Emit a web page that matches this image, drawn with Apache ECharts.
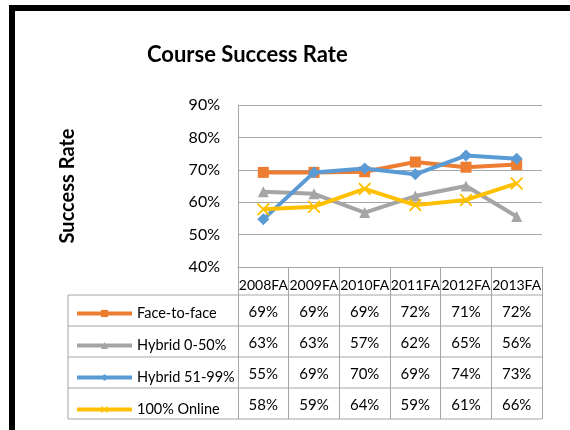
<!DOCTYPE html>
<html><head><meta charset="utf-8">
<script src="https://cdn.jsdelivr.net/npm/echarts@6/dist/echarts.min.js"></script>
<style>html,body{margin:0;padding:0;background:#fff}#c{width:570px;height:430px}</style>
</head><body><div id="c"></div>
<script>
var categories = ['2008FA','2009FA','2010FA','2011FA','2012FA','2013FA'];
var faceToFace = [69.2, 69.2, 69.4, 72.4, 70.8, 71.6];
var hybrid0to50 = [63.2, 62.6, 56.8, 61.9, 65.0, 55.6];
var hybrid51to99 = [54.7, 69.2, 70.4, 68.6, 74.4, 73.4];
var online100 = [57.8, 58.6, 64.1, 59.1, 60.7, 65.8];
var seriesNames = ['Face-to-face','Hybrid 0-50%','Hybrid 51-99%','100% Online'];
var yTicks = [40, 50, 60, 70, 80, 90];

var FONT = 'Lato';
var GRID_L = 238, GRID_R = 542, GRID_T = 105, GRID_B = 267;
var ROW_H = 31, HEADER_H = 28;
var lineGray = '#a6a6a6';
var colors = ['#ED7D31','#A5A5A5','#5B9BD5','#FFC000'];
var allSeries = [faceToFace, hybrid0to50, hybrid51to99, online100];
var symbols = ['rect','triangle','diamond','path://M0,1L1,0L5,4L9,0L10,1L6,5L10,9L9,10L5,6L1,10L0,9L4,5Z'];
var symSizes = [11, 11, 12, 13];

var chart = echarts.init(document.getElementById('c'), null, {renderer:'canvas'});

var xAxes = [{
  type:'category', data:categories, gridIndex:0, position:'bottom', boundaryGap:true,
  axisLine:{show:true, lineStyle:{color:lineGray, width:1}},
  axisTick:{show:true, inside:false, length:HEADER_H + ROW_H*4, lineStyle:{color:lineGray, width:1}},
  axisLabel:{color:'#000', fontSize:14, fontFamily:FONT, margin:11, interval:0},
  splitLine:{show:false}
}];
allSeries.forEach(function(vals, i){
  xAxes.push({
    type:'category', gridIndex:0, position:'bottom', boundaryGap:true,
    offset: HEADER_H + ROW_H*i + 2,
    data: vals.map(function(v){return Math.round(v)+'%';}),
    axisLine:{show:false}, axisTick:{show:false}, splitLine:{show:false},
    axisLabel:{color:'#000', fontSize:15, fontFamily:FONT, margin:8, interval:0}
  });
});

var tableLines = [];
function hline(x1,x2,y){tableLines.push({type:'line', shape:{x1:x1,y1:y,x2:x2,y2:y}, style:{stroke:lineGray, lineWidth:1}, silent:true});}
function vline(x,y1,y2){tableLines.push({type:'line', shape:{x1:x,y1:y1,x2:x,y2:y2}, style:{stroke:lineGray, lineWidth:1}, silent:true});}
var TBL_L = 68;
for (var r = 0; r <= 4; r++) hline(TBL_L, GRID_R, GRID_B + HEADER_H + ROW_H*r);
vline(TBL_L, GRID_B + HEADER_H, GRID_B + HEADER_H + ROW_H*4);

var option = {
  animation:false,
  backgroundColor:'#fff',
  title:{text:'Course Success Rate', left:142, top:39,
    textStyle:{fontFamily:FONT, fontSize:22, fontWeight:'bold', color:'#000'}},
  grid:{left:GRID_L, top:GRID_T, width:GRID_R-GRID_L, height:GRID_B-GRID_T, containLabel:false},
  legend:{orient:'vertical', left:70, top:GRID_B + HEADER_H + 6, itemWidth:55, itemHeight:9, itemGap:ROW_H-14,
    lineStyle:{width:4},
    textStyle:{fontFamily:FONT, fontSize:14.5, color:'#000', lineHeight:14}, data:seriesNames},
  xAxis: xAxes,
  yAxis:{type:'value', min:yTicks[0], max:yTicks[yTicks.length-1], interval:10,
    name:'Success Rate', nameLocation:'middle', nameRotate:90, nameGap:160,
    nameTextStyle:{fontFamily:FONT, fontSize:20, fontWeight:'bold', color:'#000'},
    axisLine:{show:true, lineStyle:{color:lineGray}}, axisTick:{show:false},
    axisLabel:{formatter:'{value}%', fontFamily:FONT, fontSize:16, color:'#000', margin:18},
    splitLine:{show:true, lineStyle:{color:lineGray, width:1}}},
  series: allSeries.map(function(vals, i){
    return {name:seriesNames[i], type:'line', data:vals, xAxisIndex:0, yAxisIndex:0,
      symbol:symbols[i], symbolSize:symSizes[i], showSymbol:true,
      lineStyle:{color:colors[i], width:4}, itemStyle:{color:colors[i]}, z:2+i};
  }),
  graphic: tableLines.concat([
    {type:'rect', shape:{x:12, y:8, width:700, height:600}, style:{fill:'none', stroke:'#000', lineWidth:6}, silent:true, z:100}
  ])
};
chart.setOption(option);
</script></body></html>
